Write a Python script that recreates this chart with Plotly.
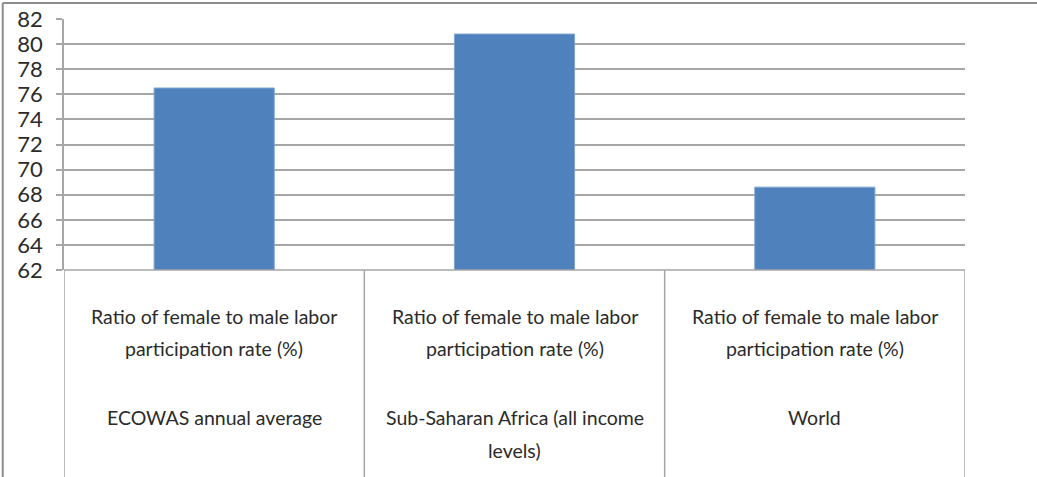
import plotly.graph_objects as go

# data
regions = ['ECOWAS annual average',
           'Sub-Saharan Africa (all income levels)',
           'World']
region_lines = [['ECOWAS annual average'],
                ['Sub-Saharan Africa (all income', 'levels)'],
                ['World']]
metric_lines = ['Ratio of female to male labor', 'participation rate (%)']
values = [76.5, 80.8, 68.6]
y_ticks = list(range(62, 83, 2))

BAR = '#4F81BD'
GRID = '#A6A6A6'
TXT = '#2b2b2b'
FONT = 'Lato'

fig = go.Figure()
fig.add_trace(go.Bar(
    x=regions, y=values, base=0,
    marker=dict(color=BAR, line=dict(color='#7FA3D0', width=1)),
    width=0.4, showlegend=False, hoverinfo='x+y',
))

# category labels (metric on top, region underneath)
ann = []
for i, reg in enumerate(regions):
    for k, line in enumerate(metric_lines):
        ann.append(dict(x=reg, xref='x', y=0, yref='paper', yanchor='middle',
                        yshift=-46 - 32 * k, text=line, showarrow=False,
                        font=dict(family=FONT, size=19.5, color=TXT)))
    for k, line in enumerate(region_lines[i]):
        ann.append(dict(x=reg, xref='x', y=0, yref='paper', yanchor='middle',
                        yshift=-147 - 33 * k, text=line, showarrow=False,
                        font=dict(family=FONT, size=19.5, color=TXT)))

# dividers between categories below the axis
shapes = []
for b in [-0.5, 0.5, 1.5, 2.5]:
    shapes.append(dict(type='line', xref='x', yref='paper', x0=b, x1=b,
                       y0=0, y1=-1.0, line=dict(color=GRID, width=1.5)))
# x axis baseline
shapes.append(dict(type='line', xref='x', yref='paper', x0=-0.5, x1=2.5,
                   y0=0, y1=0, line=dict(color=GRID, width=1.5)))
# outer chart border (top / left)
shapes.append(dict(type='line', xref='paper', yref='paper', x0=-0.068, x1=1.2,
                   y0=1.064, y1=1.064, line=dict(color='#8C8C8C', width=2)))
shapes.append(dict(type='line', xref='paper', yref='paper', x0=-0.068, x1=-0.068,
                   y0=1.064, y1=-1.0, line=dict(color='#8C8C8C', width=2)))

fig.update_layout(
    width=1037, height=477,
    paper_bgcolor='white', plot_bgcolor='white',
    margin=dict(l=64, r=72, t=19, b=207, autoexpand=False),
    bargap=0.6,
    xaxis=dict(showticklabels=False, showgrid=False, zeroline=False,
               showline=False, ticks='', range=[-0.5, 2.5], automargin=False),
    yaxis=dict(range=[62, 82], tickvals=y_ticks, showgrid=True,
               gridcolor=GRID, gridwidth=1.5, zeroline=False,
               showline=True, linecolor=GRID, linewidth=1.5,
               ticks='outside', ticklen=6, tickcolor=GRID, tickwidth=1.5,
               ticklabelstandoff=9, automargin=False,
               tickfont=dict(family=FONT, size=22, color=TXT)),
    annotations=ann, shapes=shapes,
)

fig.write_html("out.html", config={'displayModeBar': False},
               post_script="document.body.style.margin='0';"
                           "document.body.style.overflow='hidden';")
